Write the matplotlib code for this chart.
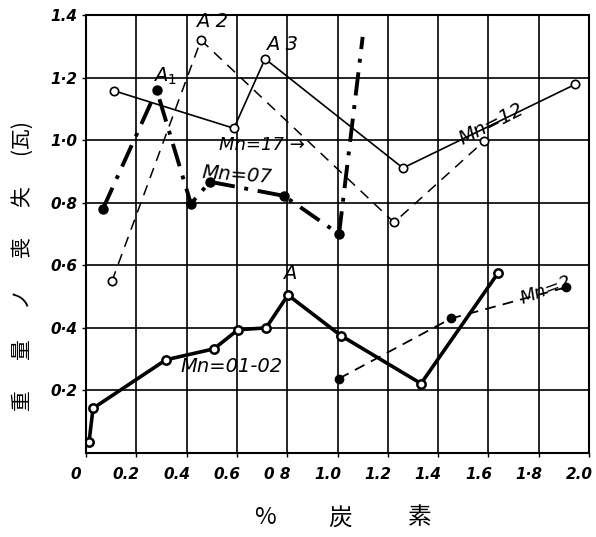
import matplotlib
matplotlib.use('Agg')
import matplotlib.pyplot as plt
from matplotlib.transforms import ScaledTranslation

plt.rcParams['font.family'] = ['DejaVu Sans', 'Noto Sans CJK JP']

# Mn = 0.1-0.2 (thick solid)
c1_x = [0.012, 0.028, 0.318, 0.509, 0.604, 0.716, 0.803, 1.014, 1.332, 1.638]
c1_y = [0.035, 0.143, 0.298, 0.333, 0.394, 0.400, 0.505, 0.375, 0.222, 0.575]
# Mn = 2 (dashed, filled dots)
c2_x = [1.006, 1.451, 1.910]
c2_y = [0.238, 0.430, 0.530]
# Mn = 0.7 (heavy dash-dot), last point is the open end of the line
c3_x = [0.067, 0.281, 0.417, 0.493, 0.787, 1.006, 1.100]
c3_y = [0.780, 1.160, 0.797, 0.867, 0.822, 0.700, 1.330]
# Mn = 1.7 (thin dashed, open circles)
c4_x = [0.103, 0.457, 1.225, 1.583]
c4_y = [0.549, 1.320, 0.737, 0.997]
# Mn = 1.2 (thin solid, open circles)
c5_x = [0.111, 0.588, 0.712, 1.260, 1.944]
c5_y = [1.158, 1.038, 1.260, 0.911, 1.178]

x_ticks = [0, 0.2, 0.4, 0.6, 0.8, 1.0, 1.2, 1.4, 1.6, 1.8, 2.0]
x_labels = ['0', '0.2', '0.4', '0.6', '0 8', '1.0', '1.2', '1.4', '1.6', '1·8', '2.0']
y_ticks = [0.2, 0.4, 0.6, 0.8, 1.0, 1.2, 1.4]
y_labels = ['0·2', '0·4', '0·6', '0·8', '1·0', '1·2', '1.4']

fig = plt.figure(figsize=(5.96, 5.37), dpi=100)
ax = fig.add_axes([0.1443, 0.1564, 0.8440, 0.8156])

ax.plot(c1_x, c1_y, '-', color='black', lw=2.6, marker='o', ms=6,
        mfc='white', mec='black', mew=1.8)
ax.plot(c2_x, c2_y, color='black', lw=1.3, ls=(0, (6, 4)), marker='o', ms=6,
        mfc='black', mec='black')
ax.plot(c3_x, c3_y, color='black', lw=2.8, ls=(0, (6, 2.5, 1, 2.5)), marker='o',
        ms=6.5, mfc='black', mec='black', markevery=list(range(6)))
ax.plot(c4_x, c4_y, color='black', lw=1.1, ls=(0, (7, 5)), marker='o', ms=6,
        mfc='white', mec='black', mew=1.2)
ax.plot(c5_x, c5_y, '-', color='black', lw=1.2, marker='o', ms=6,
        mfc='white', mec='black', mew=1.2)

ax.set_xlim(0, 2.0)
ax.set_ylim(0, 1.4)
ax.set_xticks(x_ticks)
ax.set_xticklabels(x_labels, fontsize=11, fontweight='bold', style='italic')
ax.set_yticks(y_ticks)
ax.set_yticklabels(y_labels, fontsize=11, fontweight='bold', style='italic')
ax.tick_params(axis='x', length=3, width=1, pad=7)
ax.tick_params(axis='y', length=3, width=1, pad=3)
shift = ScaledTranslation(-10 / 100, 0, fig.dpi_scale_trans)
for lab in ax.get_xticklabels():
    lab.set_transform(lab.get_transform() + shift)
ax.grid(True, color='black', lw=1.2)
for s in ax.spines.values():
    s.set_linewidth(1.5)

kw = dict(fontsize=14, style='italic', ha='center', va='center')
ax.text(0.314, 1.205, '$A_1$', **kw)
ax.text(0.50, 1.38, 'A 2', **kw)
ax.text(0.78, 1.305, 'A 3', **kw)
ax.text(0.81, 0.575, 'A', **kw)
ax.text(1.61, 1.05, 'Mn=12', rotation=27, **kw)
ax.text(0.70, 0.984, 'Mn=17 →', fontsize=13, style='italic', ha='center', va='center')
ax.text(0.60, 0.889, 'Mn=07', rotation=-4, **kw)
ax.text(0.58, 0.276, 'Mn=01-02', **kw)
ax.text(1.83, 0.52, 'Mn=2', fontsize=13, style='italic', ha='center', va='center', rotation=20)

cjk = ['Noto Sans CJK JP', 'DejaVu Sans']
fig.text(0.038, 0.505, '重　  量　  ノ　  喪　  失　  (瓦)', rotation=90, ha='center',
         va='center', fontsize=15, family=cjk)
fig.text(265 / 596, 1 - 518 / 537, '%', ha='center', va='center', fontsize=17, family=cjk)
fig.text(340 / 596, 1 - 518 / 537, '炭', ha='center', va='center', fontsize=17, family=cjk)
fig.text(420 / 596, 1 - 518 / 537, '素', ha='center', va='center', fontsize=17, family=cjk)

fig.savefig('out.png', dpi=100)
